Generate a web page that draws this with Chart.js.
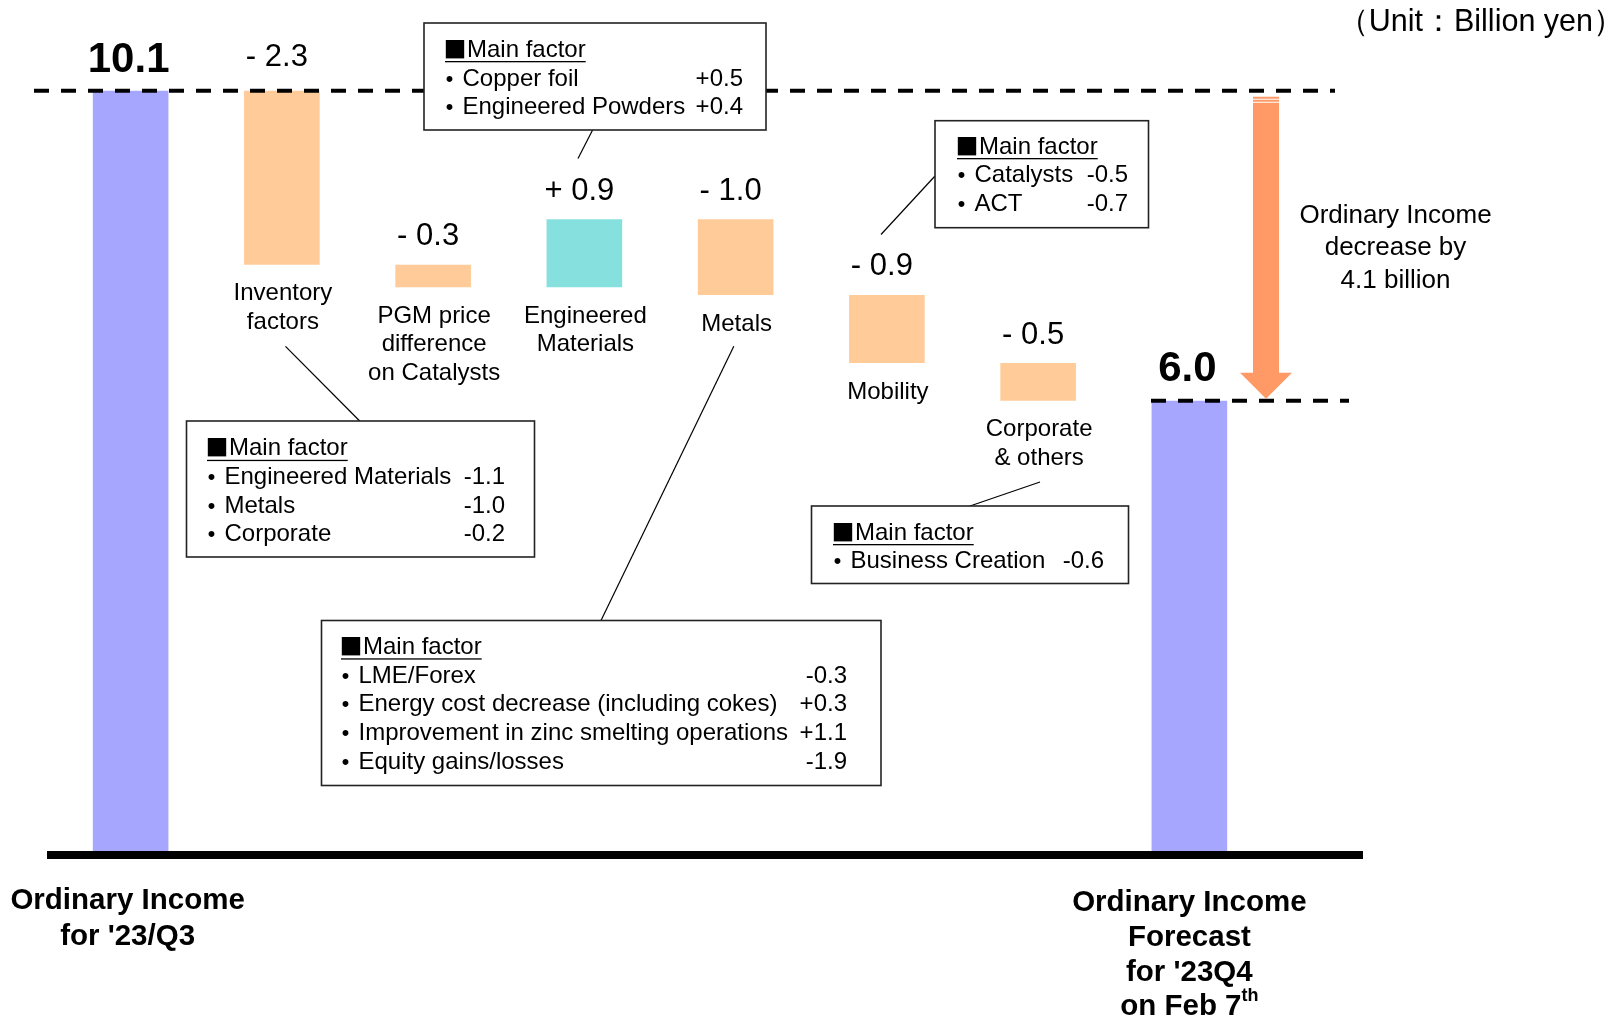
<!DOCTYPE html>
<html><head><meta charset="utf-8">
<script src="https://cdn.jsdelivr.net/npm/chart.js@4.4.1/dist/chart.umd.min.js"></script>
<style>html,body{margin:0;padding:0;background:#fff;overflow:hidden}canvas{display:block}</style>
</head><body>
<canvas id="c" width="1616" height="1018"></canvas>
<script>
// ---- data ----
const categories = ["Ordinary Income for '23/Q3", "Inventory factors", "PGM price difference on Catalysts", "Engineered Materials", "Metals", "Mobility", "Corporate & others", "Ordinary Income Forecast for '23Q4 on Feb 7th"];
const startValue = 10.1;
const changes = [-2.3, -0.3, 0.9, -1.0, -0.9, -0.5];
const endValue = 6.0;
const valueLabels = ["10.1", "- 2.3", "- 0.3", "+ 0.9", "- 1.0", "- 0.9", "- 0.5", "6.0"];
const categoryLines = [[], ["Inventory", "factors"], ["PGM price", "difference", "on Catalysts"], ["Engineered", "Materials"], ["Metals"], ["Mobility"], ["Corporate", "& others"], []];
const leftTotalLines = ["Ordinary Income", "for '23/Q3"];
const rightTotalLines = ["Ordinary Income", "Forecast", "for '23Q4"];
const unitText = "（Unit：Billion yen）";
const arrowText = ["Ordinary Income", "decrease by", "4.1 billion"];
const factorsEngineered = [["Copper foil", "+0.5"], ["Engineered Powders", "+0.4"]];
const factorsInventory = [["Engineered Materials", "-1.1"], ["Metals", "-1.0"], ["Corporate", "-0.2"]];
const factorsMetals = [["LME/Forex", "-0.3"], ["Energy cost decrease (including cokes)", "+0.3"], ["Improvement in zinc smelting operations", "+1.1"], ["Equity gains/losses", "-1.9"]];
const factorsMobility = [["Catalysts", "-0.5"], ["ACT", "-0.7"]];
const factorsCorporate = [["Business Creation", "-0.6"]];

// build floating ranges
const ranges = [];
const colors = [];
ranges.push([0, startValue]); colors.push('#A6A6FF');
let run = startValue;
changes.forEach(c => {
  const nxt = Math.round((run + c) * 10) / 10;
  ranges.push([Math.min(run, nxt), Math.max(run, nxt)]);
  colors.push(c < 0 ? '#FFCC99' : '#86E0DE');
  run = nxt;
});
ranges.push([0, endValue]); colors.push('#A6A6FF');

// ---- layout (annotation boxes, label offsets) ----
const FONT = "'Liberation Sans', Arial, sans-serif";
const labelGap = [30, 33, 28, 28, 28, 28, 28, 31];
const boxes = [
  { x: 424, y: 23, w: 342, h: 107, tx: 445, vx: 743, y0: 50, dy: 28.9, rows: factorsEngineered, line: [592.6, 130, 578, 158.5] },
  { x: 186.5, y: 421, w: 348, h: 136, tx: 207, vx: 505, y0: 448.8, dy: 28.6, rows: factorsInventory, line: [359.7, 421, 285.5, 346.3] },
  { x: 321.5, y: 620.5, w: 559.5, h: 165, tx: 341, vx: 847, y0: 647.3, dy: 28.7, rows: factorsMetals, line: [601, 620.5, 733.8, 346.3] },
  { x: 935, y: 120.7, w: 213.5, h: 107, tx: 957, vx: 1128, y0: 147, dy: 28.6, rows: factorsMobility, line: [935, 176, 881, 234.5] },
  { x: 811.5, y: 506, w: 317, h: 77.5, tx: 833, vx: 1104, y0: 533, dy: 28, rows: factorsCorporate, line: [970, 506, 1040, 482] }
];

function txt(ctx, s, x, y, font, align) {
  ctx.font = font; ctx.textAlign = align || 'center'; ctx.textBaseline = 'middle'; ctx.fillStyle = '#000';
  ctx.fillText(s, x, y);
}

const annot = {
  id: 'annot',
  afterDatasetsDraw(chart) {
    const ctx = chart.ctx;
    const ys = chart.scales.y;
    const bars = chart.getDatasetMeta(0).data;
    const yTop = ys.getPixelForValue(startValue);
    const yEnd = ys.getPixelForValue(endValue);
    const y0 = ys.getPixelForValue(0);
    ctx.save();
    // dashed reference lines
    ctx.strokeStyle = '#000'; ctx.lineWidth = 4; ctx.setLineDash([15, 12]);
    ctx.beginPath(); ctx.moveTo(34, yTop); ctx.lineTo(1335, yTop); ctx.stroke();
    ctx.beginPath(); ctx.moveTo(1151, yEnd); ctx.lineTo(1349, yEnd); ctx.stroke();
    ctx.setLineDash([]);
    // baseline
    ctx.fillStyle = '#000';
    ctx.fillRect(47, y0 - 3.5, 1316, 8);
    // arrow
    const ax = 1266;
    ctx.fillStyle = '#FF9966';
    ctx.fillRect(ax - 13, yTop + 6, 26, (yEnd - 27) - (yTop + 6));
    ctx.beginPath(); ctx.moveTo(ax - 26, yEnd - 28); ctx.lineTo(ax + 26, yEnd - 28); ctx.lineTo(ax, yEnd - 2); ctx.closePath(); ctx.fill();
    ctx.fillStyle = '#fff';
    ctx.fillRect(ax - 13, yTop + 8, 26, 1);
    ctx.fillRect(ax - 13, yTop + 11, 26, 1);
    arrowText.forEach((s, i) => txt(ctx, s, 1395.5, 215.5 + i * 32.6, '26px ' + FONT));
    // connector lines
    ctx.strokeStyle = '#000'; ctx.lineWidth = 1.2;
    boxes.forEach(b => { ctx.beginPath(); ctx.moveTo(b.line[0], b.line[1]); ctx.lineTo(b.line[2], b.line[3]); ctx.stroke(); });
    // boxes
    boxes.forEach(b => {
      ctx.fillStyle = '#fff'; ctx.fillRect(b.x, b.y, b.w, b.h);
      ctx.strokeStyle = '#222'; ctx.lineWidth = 1.6; ctx.strokeRect(b.x, b.y, b.w, b.h);
      const f = '24px ' + FONT;
      // title: square + underlined "Main factor"
      ctx.font = "23px 'Noto Sans CJK JP'"; ctx.textAlign = 'left'; ctx.textBaseline = 'alphabetic'; ctx.fillStyle = '#000';
      ctx.fillText('■', b.tx - 1.5, b.y0 + 7.5);
      txt(ctx, 'Main factor', b.tx + 22, b.y0, f, 'left');
      ctx.font = f;
      const w = ctx.measureText('Main factor').width;
      ctx.fillStyle = '#000'; ctx.fillRect(b.tx, b.y0 + 11, w + 22, 1.3);
      b.rows.forEach((r, i) => {
        const yy = b.y0 + (i + 1) * b.dy;
        txt(ctx, '・', b.tx + 4.5, yy, "28px 'Noto Sans CJK JP'", 'center');
        txt(ctx, r[0], b.tx + 17.5, yy, f, 'left');
        txt(ctx, r[1], b.vx, yy, f, 'right');
      });
    });
    // value labels and category labels
    bars.forEach((bar, i) => {
      const top = Math.min(bar.y, bar.base), bot = Math.max(bar.y, bar.base);
      if (i === 0 || i === bars.length - 1) {
        txt(ctx, valueLabels[i], bar.x - 2, top - labelGap[i], 'bold 42px ' + FONT);
      } else {
        txt(ctx, valueLabels[i], bar.x - 5, top - labelGap[i], '31px ' + FONT);
      }
      categoryLines[i].forEach((s, k) => txt(ctx, s, bar.x + 1, bot + 29 + k * 28.3, '24px ' + FONT));
    });
    // bottom totals
    const b0 = bars[0], b7 = bars[bars.length - 1];
    const bf = 'bold 29.5px ' + FONT;
    leftTotalLines.forEach((s, k) => txt(ctx, s, b0.x - 3, 900.5 + k * 36, bf));
    rightTotalLines.forEach((s, k) => txt(ctx, s, b7.x, 902.5 + k * 35, bf));
    // "on Feb 7th"
    ctx.font = bf; const wMain = ctx.measureText('on Feb 7').width;
    ctx.font = 'bold 18px ' + FONT; const wSup = ctx.measureText('th').width;
    const sx = b7.x - (wMain + wSup) / 2;
    txt(ctx, 'on Feb 7', sx, 1007, bf, 'left');
    txt(ctx, 'th', sx + wMain, 996, 'bold 18px ' + FONT, 'left');
    // unit
    txt(ctx, unitText, 1624, 23, '30.5px ' + FONT, 'right');
    ctx.restore();
  }
};

new Chart(document.getElementById('c'), {
  type: 'bar',
  data: {
    labels: categories,
    datasets: [{ data: ranges, backgroundColor: colors, borderWidth: 0, categoryPercentage: 1, barPercentage: 0.5 }]
  },
  options: {
    responsive: false, animation: false,
    layout: { padding: { left: 55, right: 351, top: 0, bottom: 163.5 } },
    plugins: { legend: { display: false }, tooltip: { enabled: false } },
    scales: {
      x: { display: false, offset: true, grid: { display: false } },
      y: { display: false, min: 0, max: 11.3 }
    }
  },
  plugins: [annot]
});
</script>
</body></html>
